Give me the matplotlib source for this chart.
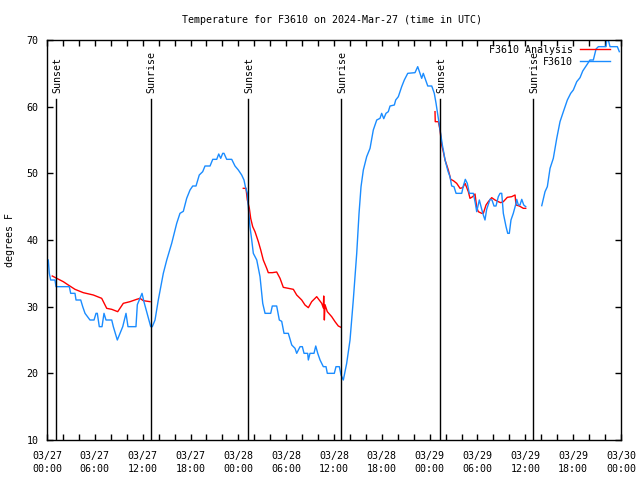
import matplotlib
matplotlib.use("Agg")
import matplotlib.pyplot as plt

plt.rcParams['font.family'] = ['DejaVu Sans Mono']
plt.rcParams['font.size'] = 7.2

# hours since 03/27 00:00 UTC, temperature in F
obs_t1 = [0.16, 0.29, 0.46, 1.0, 1.13, 2.8, 2.97, 3.51, 3.64, 4.23, 4.48, 4.77, 5.39, 5.9, 6.15, 6.31,
          6.56, 6.9, 7.15, 7.4, 8.12, 8.32, 8.82, 8.99, 9.5, 9.91, 10.16, 11.16, 11.33, 11.67, 11.92,
          12.17, 12.71, 13.01, 13.21, 13.55, 13.96, 14.59, 15.02, 15.64, 16.27, 16.68, 17.1, 17.52,
          17.94, 18.28, 18.69, 19.1, 19.53, 19.82, 20.45, 20.79, 21.29, 21.54, 21.79, 22.04, 22.2,
          22.54, 23.17, 23.58, 24.0, 24.42, 24.71, 24.88, 25.13, 25.25, 25.46, 25.68, 25.88, 26.31,
          26.72, 27.06, 27.35, 28.06, 28.26, 28.81, 29.14, 29.44, 29.73, 30.27, 30.7, 31.11, 31.32,
          31.74, 32.03, 32.24, 32.7, 32.78, 32.99, 33.49, 33.71, 33.96, 34.25, 34.66, 35.0, 35.16,
          36.04, 36.25, 36.67, 36.88, 37.17, 37.59, 38.01, 38.42, 38.85, 39.14, 39.39, 39.68, 40.1,
          40.52, 40.93, 41.36, 41.77, 41.98, 42.24, 42.52, 42.81, 43.03, 43.57, 43.74, 44.07, 44.49,
          44.82, 45.25, 46.16, 46.5, 46.79, 47.0, 47.2, 47.5, 47.76, 48.26, 48.58, 48.8, 49.09, 49.34,
          49.59, 49.71, 49.93, 50.14, 50.3, 50.55, 50.76, 51.05, 51.31, 52.02, 52.22, 52.47, 52.72,
          52.97, 53.48, 53.73, 53.9, 54.23, 54.53, 54.73, 54.94, 55.15, 55.57, 55.82, 56.07, 56.32,
          56.61, 56.83, 57.04, 57.24, 57.58, 57.79, 57.99, 58.2, 58.49, 58.83, 58.92, 59.12, 59.33,
          59.55, 59.8, 60.05]
obs_v1 = [37, 35, 34, 34, 33, 33, 32, 32, 31, 31, 30, 29, 28, 28, 29, 29,
          27, 27, 29, 28, 28, 27, 25, 25.5, 27, 29, 27, 27, 30.3, 31.3, 32,
          30.7, 28.3, 27, 27, 28, 31, 35, 37, 39.5, 42.5, 44, 44.3, 46.25,
          47.5, 48.1, 48.1, 49.75, 50.25, 51.1, 51.1, 52.1, 52.1, 52.9, 52.25, 53, 53,
          52.1, 52.1, 51.1, 50.5, 49.75, 49, 48, 47, 45, 42, 40, 38, 37,
          34.5, 30.5, 29, 29, 30.1, 30.1, 28, 27.8, 26, 26, 24.25, 23.75, 23,
          24, 24, 23, 23, 22, 23, 23, 24.1, 23, 22, 21, 21, 20,
          20, 21, 21, 19.75, 19, 21.5, 25, 31, 38, 44, 48, 50.5, 52.5,
          53.75, 56.5, 58, 58.25, 59, 58.2, 59, 59.25, 60.1, 60.25, 61, 61.5, 63,
          64, 65, 65.1, 66, 65, 64.25, 65, 64, 63.1, 63.1, 62, 60.5, 58.25, 56.25,
          54.25, 53.5, 52, 51, 50.3, 49.5, 48.1, 48, 47, 47, 48.1, 49.1, 48.5,
          47, 47, 45.5, 44.25, 46, 44.6, 43.75, 43, 44.6, 46.1, 46, 45.1, 45.1,
          46.5, 47, 47, 44, 42, 41, 41, 43, 44, 45.5, 46.1, 45.25, 45.25,
          46.1, 45.25, 45]
obs_t2 = [62.06, 62.47, 62.76, 63.1, 63.51, 63.94, 64.35, 64.77, 65.27, 65.69, 66.02, 66.45, 66.86,
          67.2, 67.7, 68.11, 68.53, 68.87, 69.16, 70.12, 70.21, 70.41, 70.62, 71.54, 71.79]
obs_v2 = [45.15, 47.25, 48, 50.75, 52.25, 55.25, 57.75, 59.25, 61, 62, 62.5, 63.75, 64.35,
          65.35, 66.25, 67, 67, 68.65, 69, 69, 70, 70, 69, 69, 68.25]

ana_t1 = [0.66, 1.22, 2.04, 2.67, 3.51, 4.55, 5.81, 6.86, 7.49, 8.12, 8.87, 9.57, 10.41, 11.25,
          11.67, 12.08, 12.92]
ana_v1 = [34.6, 34.25, 33.75, 33.25, 32.6, 32.1, 31.75, 31.25, 29.75, 29.6, 29.25, 30.5, 30.75, 31.1,
          31.25, 30.9, 30.75]
ana_t2 = [24.62, 24.96, 25.13, 25.38, 25.55, 25.8, 26.09, 26.51, 26.81, 27.13, 27.56, 27.76, 28.26,
          28.81, 29.23, 29.64, 30.27, 30.9, 31.32, 31.95, 32.36, 32.78, 33.2, 33.83, 34.46, 34.66,
          34.71, 34.79, 34.87, 35.16, 35.71, 36.13, 36.54, 36.88]
ana_v2 = [47.75, 47.75, 46, 44.75, 43.25, 42, 41.25, 39.75, 38.5, 37, 35.75, 35.1, 35.1,
          35.2, 34.25, 32.9, 32.75, 32.6, 31.75, 31, 30.25, 29.85, 30.75, 31.5, 30.5, 29.8,
          31.6, 28.0, 30.3, 29.25, 28.5, 27.75, 27.1, 26.9]
ana_t3 = [48.67, 48.7, 49.09, 49.3, 49.51, 49.71, 49.93, 50.34, 50.64, 50.97, 51.39, 51.81, 52.15,
          52.44, 52.85, 53.06, 53.4, 53.69, 53.9, 54.1, 54.53, 54.73, 55.07, 55.36, 55.78, 56.2,
          56.61, 56.91, 57.24, 57.74, 58.29, 58.71, 58.83, 59.25, 59.75, 60.05]
ana_v3 = [59.25, 57.75, 57.75, 56.5, 54.25, 53.25, 52, 50.5, 49.1, 48.9, 48.5, 47.75, 47.85,
          48.5, 47.25, 46.25, 46.5, 46.9, 44.9, 44.25, 44, 44, 45.25, 45.75, 46.35, 46,
          45.75, 45.6, 45.75, 46.4, 46.5, 46.75, 45.25, 45.1, 44.75, 44.75]

sun_times = [1.17, 13.0, 25.25, 36.9, 49.33, 60.98]
sun_labels = ['Sunset', 'Sunrise', 'Sunset', 'Sunrise', 'Sunset', 'Sunrise']
day_names = ['03/27', '03/28', '03/29', '03/30']

blue = '#1a8cff'
red = '#ff0000'

fig = plt.figure(figsize=(6.4, 4.8), dpi=100)
ax = fig.add_axes([47/640, 40/480, 574/640, 400/480])

ax.plot(ana_t1, ana_v1, color=red, lw=1, label='F3610 Analysis')
ax.plot(ana_t2, ana_v2, color=red, lw=1)
ax.plot(ana_t3, ana_v3, color=red, lw=1)
ax.plot(obs_t1, obs_v1, color=blue, lw=1, label='F3610')
ax.plot(obs_t2, obs_v2, color=blue, lw=1)

for t, s in zip(sun_times, sun_labels):
    ax.plot([t, t], [10, 61.2], color='black', lw=1)
    ax.text(t + 0.15, 62.1, s, rotation=90, ha='center', va='bottom')

ax.set_xlim(0, 72)
ax.set_ylim(10, 70)
ax.set_xticks(range(0, 73, 2))
lbls = []
for h in range(0, 73, 2):
    if h % 6 == 0:
        lbls.append('%s\n%02d:00' % (day_names[h // 24], h % 24))
    else:
        lbls.append('')
ax.set_xticklabels(lbls, linespacing=1.3)
ax.set_yticks(range(10, 71, 10))
ax.tick_params(direction='in', length=4, width=1, top=True, right=True, pad=6)
ax.tick_params(axis='x', pad=8)
for sp in ax.spines.values():
    sp.set_linewidth(1)

ax.legend(loc='upper right', bbox_to_anchor=(0.981, 0.9875), frameon=False, markerfirst=False,
          handlelength=3.0, handletextpad=0.7, labelspacing=0.2, borderpad=0, borderaxespad=0)

fig.text(332.5/640, 1 - 20/480, 'Temperature for F3610 on 2024-Mar-27 (time in UTC)',
         ha='center', va='center')
fig.text(10/640, 0.5, 'degrees F', rotation=90, ha='center', va='center')

fig.savefig('out.png', dpi=100)
